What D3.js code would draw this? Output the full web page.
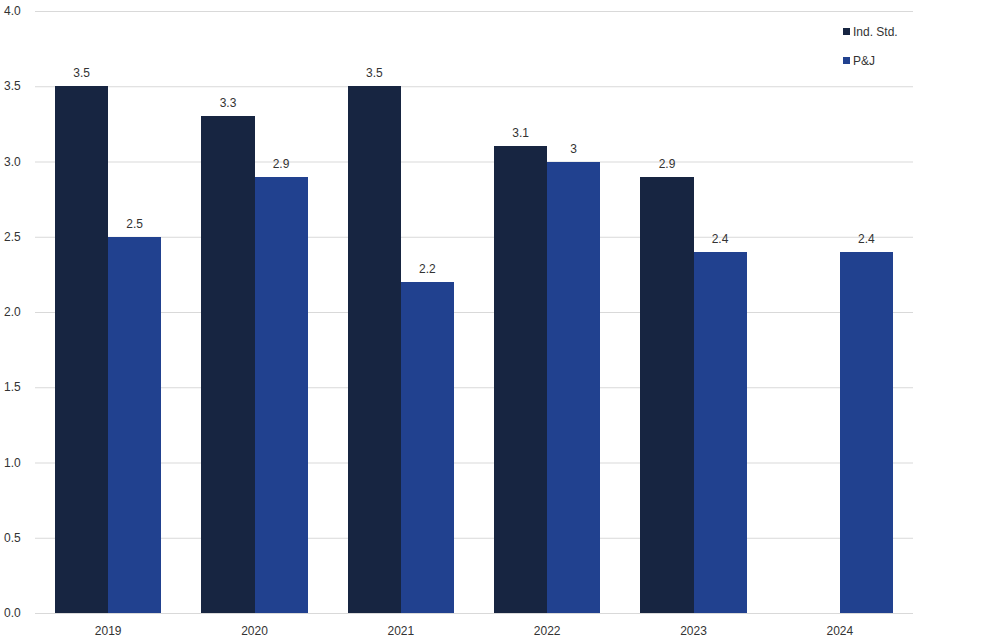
<!DOCTYPE html>
<html><head><meta charset="utf-8">
<script src="https://cdn.jsdelivr.net/npm/d3@7"></script>
<style>body{margin:0;background:#fff}svg{display:block}text{font-family:"Liberation Sans",Arial,sans-serif;fill:#333}</style>
</head><body><svg id="c" width="993" height="642"></svg>
<script>
const categories = ["2019","2020","2021","2022","2023","2024"];
const seriesNames = ["Ind. Std.","P&J"];
const indStd = [3.5,3.3,3.5,3.1,2.9,null];
const pj = [2.5,2.9,2.2,3.0,2.4,2.4];
const yTicks = [0,0.5,1,1.5,2,2.5,3,3.5,4];
const colors = ["#172541","#21418F"];

(function(){
const svg = d3.select("#c");
const mLeft = 35, mRight = 913, mTop = 11, mBottom = 613;
const x = d3.scaleBand().domain(categories).range([mLeft,mRight]).paddingInner(0.275).paddingOuter(0.1375);
const x1 = d3.scaleBand().domain(seriesNames).range([0,x.bandwidth()]);
const y = d3.scaleLinear().domain([0,4]).range([mBottom,mTop]);

svg.append("g").selectAll("line").data(yTicks).join("line")
  .attr("x1",mLeft).attr("x2",mRight).attr("y1",d=>y(d)+0.5).attr("y2",d=>y(d)+0.5)
  .attr("stroke","#d9d9d9").attr("stroke-width",1);
svg.append("g").selectAll("text").data(yTicks).join("text")
  .attr("x",4).attr("y",d=>y(d)+4).attr("font-size",12).text(d=>d.toFixed(1));

const data = [indStd,pj];
data.forEach((vals,si)=>{
  const g = svg.append("g");
  const pts = categories.map((c,i)=>({c,v:vals[i]})).filter(d=>d.v!=null);
  g.selectAll("rect").data(pts).join("rect")
    .attr("x",d=>x(d.c)+x1(seriesNames[si])).attr("width",x1.bandwidth())
    .attr("y",d=>y(d.v)).attr("height",d=>y(0)-y(d.v)).attr("fill",colors[si])
    .attr("shape-rendering","crispEdges");
  g.selectAll("text").data(pts).join("text")
    .attr("x",d=>x(d.c)+x1(seriesNames[si])+x1.bandwidth()/2).attr("y",d=>y(d.v)-9)
    .attr("text-anchor","middle").attr("font-size",12).text(d=>String(d.v));
});

svg.append("g").selectAll("text").data(categories).join("text")
  .attr("x",d=>x(d)+x.bandwidth()/2).attr("y",635).attr("text-anchor","middle").attr("font-size",12).text(d=>d);

const lg = svg.append("g");
seriesNames.forEach((n,i)=>{
  lg.append("rect").attr("x",843).attr("y",28+i*29).attr("width",7).attr("height",7).attr("fill",colors[i]);
  lg.append("text").attr("x",853).attr("y",36+i*29).attr("font-size",12).text(n);
});
})();
</script></body></html>
